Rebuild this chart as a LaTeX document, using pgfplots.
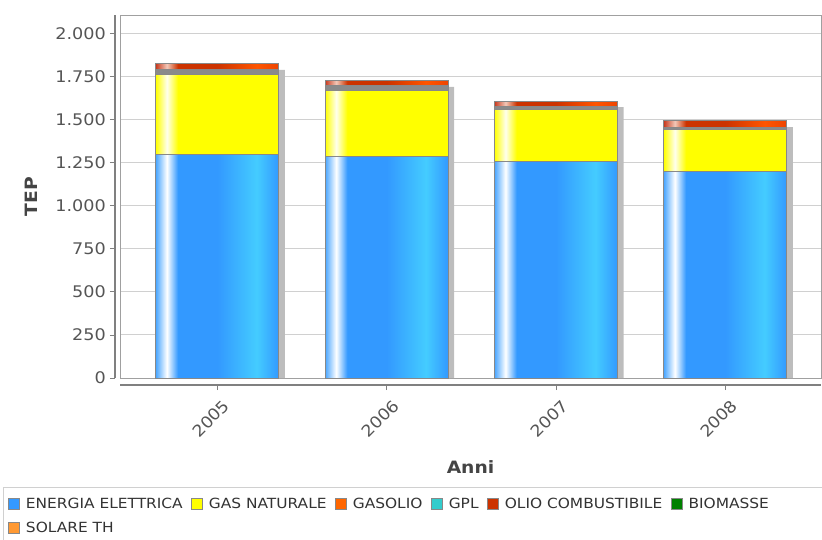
\documentclass[border=0pt]{standalone}
\usepackage{fontspec}
\setmainfont[FakeStretch=1.1]{DejaVu Sans}
\usepackage{pgfplots}
\usepackage{pgfplotstable}
\pgfplotsset{compat=1.18}

% palette
\definecolor{elA}{HTML}{4AA6FF}
\definecolor{elB}{HTML}{3399FF}
\definecolor{elC}{HTML}{44CCFF}
\definecolor{gasA}{HTML}{FFFF00}
\definecolor{gasHi}{HTML}{FFFFEE}
\definecolor{olA}{HTML}{C83A1E}
\definecolor{olHi}{HTML}{F2C8B8}
\definecolor{olB}{HTML}{CC3300}
\definecolor{olC}{HTML}{FF5500}
\definecolor{olD}{HTML}{EE4400}
\definecolor{gasolio}{HTML}{FF6600}
\definecolor{gpl}{HTML}{33CCCC}
\definecolor{olio}{HTML}{CC3300}
\definecolor{biomasse}{HTML}{008000}
\definecolor{solare}{HTML}{FF9933}
\definecolor{barline}{HTML}{888888}
\definecolor{band}{HTML}{8A8A8A}
\definecolor{framec}{HTML}{A0A0A0}
\definecolor{axisc}{HTML}{808080}
\definecolor{gridc}{HTML}{D0D0D0}
\definecolor{tickc}{HTML}{555555}
\definecolor{labelc}{HTML}{444444}
\definecolor{legc}{HTML}{333333}
\definecolor{shadowc}{HTML}{BDBDBD}

% horizontal bar shadings (the path spans 25bp..75bp)
\pgfdeclarehorizontalshading{elettrica}{100bp}{color(0bp)=(elA); color(25bp)=(elA); color(29.5bp)=(white); color(34bp)=(elB); color(50bp)=(elB); color(66bp)=(elC); color(75bp)=(elB); color(100bp)=(elB)}
\pgfdeclarehorizontalshading{gasnat}{100bp}{color(0bp)=(gasA); color(25bp)=(gasA); color(29.5bp)=(gasHi); color(34bp)=(gasA); color(100bp)=(gasA)}
\pgfdeclarehorizontalshading{oliocomb}{100bp}{color(0bp)=(olA); color(25bp)=(olA); color(29.5bp)=(olHi); color(34bp)=(olB); color(50bp)=(olB); color(66bp)=(olC); color(75bp)=(olD); color(100bp)=(olD)}

% cumulative top of each segment (TEP): energia elettrica, + gas naturale,
% + gasolio, + olio combustibile
\pgfplotstableread{
x el gas band olio
0 1297 1762 1791 1826
1 1285 1669 1698 1727
2 1256 1558 1577 1610
3 1203 1442 1459 1494
}\tops

\pgfplotsset{
  panel/.style={
    at={(120pt,-378pt)}, anchor=south west,
    scale only axis, width=701pt, height=363pt,
    xmin=-0.575, xmax=3.565,
  },
  segment/.style={forget plot, draw=barline, line width=1pt},
  legsq/.style={legend image code/.code={%
    \draw[fill=#1, draw=barline, line width=0.8pt] (0pt,-5.5pt) rectangle (11pt,5.5pt);}},
}

\begin{document}
\begin{tikzpicture}
\useasboundingbox (0,0) rectangle (822pt,-539pt);

% background: frame and grid
\begin{axis}[panel, ymin=0, ymax=2110,
  ytick={0,250,...,2000}, yticklabels={}, xtick=\empty,
  major tick length=0pt,
  ymajorgrids, grid style={gridc, line width=1pt},
  axis line style={framec, line width=1pt}]
\end{axis}

% drop shadow of the totals, 6pt right and 6pt lower
\begin{axis}[panel, ymin=35, ymax=2145, axis lines=none,
  ybar, bar width=0.727, bar shift=6pt]
\addplot[fill=shadowc, draw=none] table[x=x, y=olio]{\tops};
\end{axis}

\begin{axis}[panel, ymin=0, ymax=2110,
  ybar, bar width=0.727, bar shift=0pt,
  axis lines*=left, axis x line shift=7pt, axis y line shift=5pt,
  axis line style={axisc, line width=1.3pt},
  tick align=outside, major tick length=5pt,
  tick style={axisc, line width=1pt},
  ytick={0,250,...,2000},
  scaled y ticks=false,
  /pgf/number format/.cd, 1000 sep={.}, assume math mode=true,
  /pgfplots/.cd,
  yticklabel style={font=\fontsize{16}{18}\selectfont, color=tickc, inner xsep=4pt},
  xtick={0,1,2,3}, xticklabels={2005,2006,2007,2008},
  xticklabel style={font=\fontsize{16}{18}\selectfont, color=tickc,
    xshift=5pt, yshift=-7pt, rotate=45, anchor=north east, inner sep=1pt},
  ylabel={TEP}, xlabel={Anni},
  ylabel style={at={(axis description cs:-0.127,0.5)}, anchor=center, font=\fontsize{17}{20}\selectfont\bfseries, color=labelc},
  xlabel style={at={(axis description cs:0.5,-0.245)}, anchor=center, font=\fontsize{17}{20}\selectfont\bfseries, color=labelc},
  legend columns=6,
  legend style={at={(axis description cs:-0.1598,-0.3306)}, anchor=north west,
    draw=none, fill=none, inner sep=0pt,
    font=\fontsize{14}{16}\selectfont, text=legc,
    nodes={inner sep=0pt, text height=10pt, text depth=2pt},
    row sep=12pt,
    /tikz/every odd column/.append style={column sep=6pt},
    /tikz/every even column/.append style={column sep=8.5pt}},
  legend cell align=left,
]
% each bar is drawn on its own so that its shading spans that bar only;
% segments are layered from the tallest down
\pgfplotsinvokeforeach{0,1,2,3}{
  \addplot[segment, shade, shading=oliocomb, restrict x to domain=#1:#1] table[x=x, y=olio]{\tops};
  \addplot[segment, fill=band, restrict x to domain=#1:#1] table[x=x, y=band]{\tops};
  \addplot[segment, shade, shading=gasnat, restrict x to domain=#1:#1] table[x=x, y=gas]{\tops};
  \addplot[segment, shade, shading=elettrica, restrict x to domain=#1:#1] table[x=x, y=el]{\tops};
}

\addlegendimage{legsq=elB}\addlegendentry{ENERGIA ELETTRICA}
\addlegendimage{legsq=gasA}\addlegendentry{GAS NATURALE}
\addlegendimage{legsq=gasolio}\addlegendentry{GASOLIO}
\addlegendimage{legsq=gpl}\addlegendentry{GPL}
\addlegendimage{legsq=olio}\addlegendentry{OLIO COMBUSTIBILE}
\addlegendimage{legsq=biomasse}\addlegendentry{BIOMASSE}
\addlegendimage{legsq=solare}\addlegendentry{SOLARE TH}
\end{axis}

% legend frame
\draw[gridc, line width=1pt] (3pt,-487pt) rectangle (830pt,-545pt);
\end{tikzpicture}
\end{document}
